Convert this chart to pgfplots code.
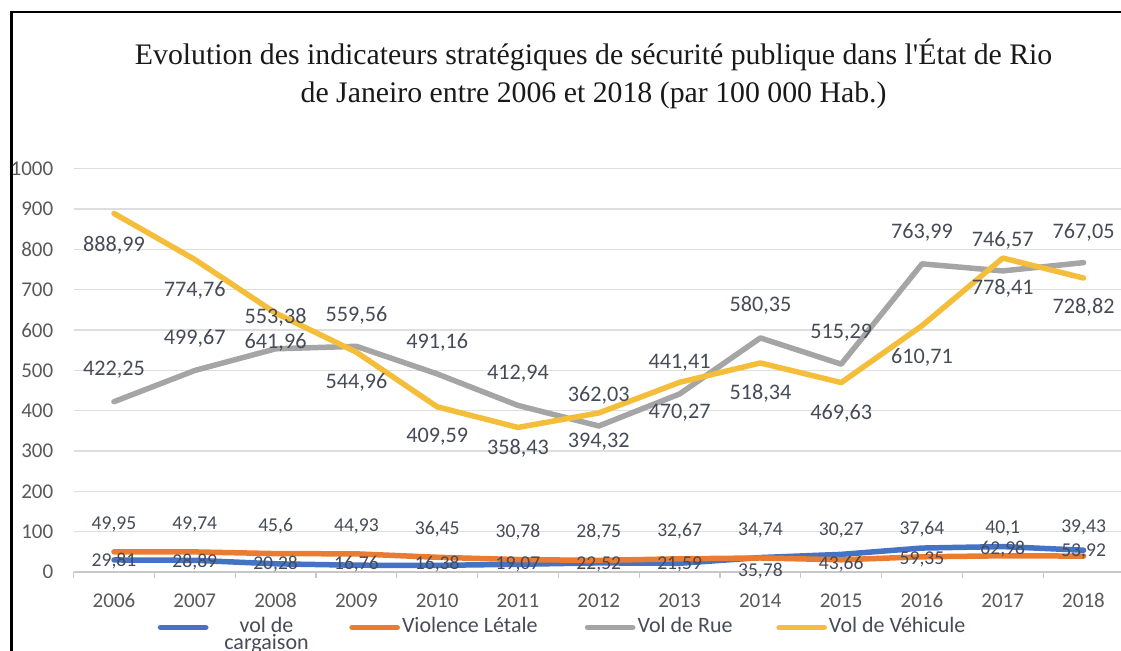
\documentclass[border=0pt]{standalone}
\usepackage{pgfplots}
\pgfplotsset{compat=1.18}
\usepackage{fontspec}
\setmainfont{Carlito}
\newfontfamily\titlefont{Liberation Serif}
\definecolor{cblue}{HTML}{4472C4}
\definecolor{corange}{HTML}{E97C30}
\definecolor{cgray}{HTML}{A5A5A5}
\definecolor{cyellow}{HTML}{F5BE3A}
\definecolor{gridgray}{HTML}{DEDEDE}
\definecolor{axisgray}{HTML}{C8C8C8}
\definecolor{ticktext}{HTML}{595959}
\definecolor{labeltext}{HTML}{454B57}
\begin{document}
\begin{tikzpicture}
\useasboundingbox (0,0) rectangle (560.5pt,325.5pt);
\draw[line width=1.4pt] (5.75pt,0) -- (5.75pt,319.5pt) -- (562pt,319.5pt);
\node[font=\titlefont\fontsize{14.9}{19}\selectfont, align=center, text=black!90] at (296.8pt,288.5pt)
 {Evolution des indicateurs stratégiques de sécurité publique dans l'État de Rio\\de Janeiro entre 2006 et 2018 (par 100 000 Hab.)};
\begin{axis}[
 at={(36.8pt,39.5pt)}, anchor=south west,
 scale only axis, width=525.2pt, height=201.65pt,
 xmin=2005.5, xmax=2018.5, ymin=0, ymax=1000,
 xtick={2006,2007,...,2018}, ytick={0,100,...,1000},
 minor xtick={2005.5,2006.5,...,2018.5},
 /pgf/number format/1000 sep={}, /pgf/number format/assume math mode=true,
 axis x line*=bottom, axis y line*=left,
 x axis line style={draw=axisgray, line width=0.6pt, -},
 y axis line style={draw=none},
 ymajorgrids, major grid style={draw=gridgray, line width=0.6pt},
 major x tick style={draw=none}, minor x tick style={draw=axisgray, line width=0.6pt},
 ytick style={draw=none},
 tick align=outside, minor tick length=3pt, major tick length=0pt,
 ticklabel style={font=\fontsize{10.5}{12}\selectfont, text=ticktext},
 xticklabel style={inner sep=0pt, anchor=north, yshift=-10.5pt},
 yticklabel style={inner sep=0pt, anchor=east, xshift=-10pt},
 clip=false,
 legend columns=4,
 legend image code/.code={\path (0pt,0pt); \draw[#1, line cap=round] (1.4pt,2.5pt) -- (24pt,2.5pt);},
 legend style={at={(0.0775,-0.112)}, anchor=north west, draw=none, fill=none,
   inner sep=0pt, outer sep=0pt, column sep=0pt,
   nodes={inner sep=0pt}, cells={anchor=base west},
   font=\fontsize{11}{10}\selectfont, text=labeltext},
 every axis plot/.append style={line width=2.75pt, line join=round, line cap=round},
]
\addplot[cblue] coordinates {(2006,29.81) (2007,28.89) (2008,20.28) (2009,16.76) (2010,16.38) (2011,19.07) (2012,22.52) (2013,21.59) (2014,35.78) (2015,43.66) (2016,59.35) (2017,62.98) (2018,53.92)};
\addlegendentry{\makebox[69pt][l]{\makebox[58pt][c]{\begin{tabular}[t]{@{}c@{}}vol de\\[-1.8pt]cargaison\end{tabular}}}}
\addplot[corange] coordinates {(2006,49.95) (2007,49.74) (2008,45.6) (2009,44.93) (2010,36.45) (2011,30.78) (2012,28.75) (2013,32.67) (2014,34.74) (2015,30.27) (2016,37.64) (2017,40.1) (2018,39.43)};
\addlegendentry{\makebox[91pt][l]{\hspace{1pt}Violence Létale}}
\addplot[cgray] coordinates {(2006,422.25) (2007,499.67) (2008,553.38) (2009,559.56) (2010,491.16) (2011,412.94) (2012,362.03) (2013,441.41) (2014,580.35) (2015,515.29) (2016,763.99) (2017,746.57) (2018,767.05)};
\addlegendentry{\makebox[69pt][l]{\hspace{1pt}Vol de Rue}}
\addplot[cyellow] coordinates {(2006,888.99) (2007,774.76) (2008,641.96) (2009,544.96) (2010,409.59) (2011,358.43) (2012,394.32) (2013,470.27) (2014,518.34) (2015,469.63) (2016,610.71) (2017,778.41) (2018,728.82)};
\addlegendentry{\hspace{1pt}Vol de Véhicule}
% data labels (big)
\addplot[draw=none, mark=none, forget plot, nodes near coords, point meta=explicit symbolic,
  every node near coord/.style={anchor=center, inner sep=0pt, font=\fontsize{11.1}{12}\selectfont, text=labeltext}]
 table[x=x, y=y, meta=l] {
x y l
2006 811 888,99
2006 501 422,25
2007 699 774,76
2007 578 499,67
2008 632 553,38
2008 568 641,96
2009 637 559,56
2009 471 544,96
2010 568 491,16
2010 335 409,59
2011 491 412,94
2011 307 358,43
2012 439 362,03
2012 322 394,32
2013 518 441,41
2013 394 470,27
2014 662 580,35
2014 444 518,34
2015 593 515,29
2015 394 469,63
2016 841 763,99
2016 533 610,71
2017 823 746,57
2017 704 778,41
2018 843 767,05
2018 655 728,82
};
% data labels (small)
\addplot[draw=none, mark=none, forget plot, nodes near coords, point meta=explicit symbolic,
  every node near coord/.style={anchor=center, inner sep=0pt, font=\fontsize{9.8}{11}\selectfont, text=labeltext}]
 table[x=x, y=y, meta=l] {
x y l
2006 117 49,95
2007 117 49,74
2008 113 45,6
2009 113 44,93
2010 106 36,45
2011 100 30,78
2012 98 28,75
2013 102 32,67
2014 103 34,74
2015 102 30,27
2016 107 37,64
2017 108 40,1
2018 111 39,43
2006 27 29,81
2007 25 28,89
2008 20 20,28
2009 20 16,76
2010 20 16,38
2011 20 19,07
2012 20 22,52
2013 20 21,59
2014 2 35,78
2015 20 43,66
2016 30 59,35
2017 57 62,98
2018 52 53,92
};
\end{axis}
\end{tikzpicture}
\end{document}
